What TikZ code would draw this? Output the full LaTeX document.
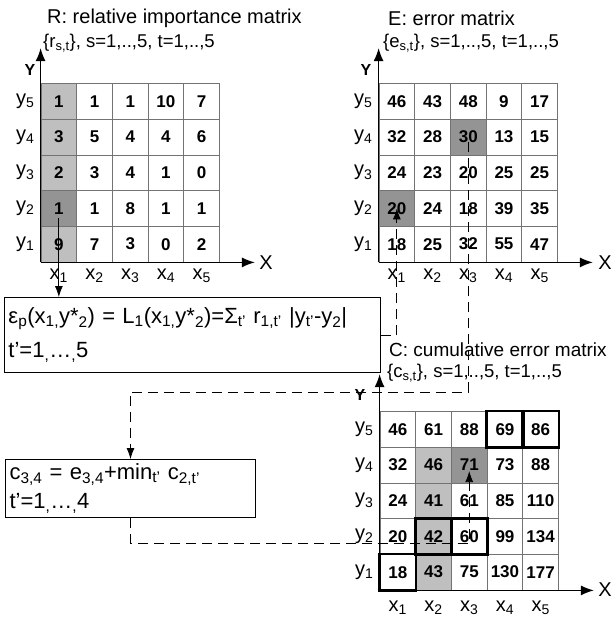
\documentclass[tikz,border=0pt]{standalone}
\usepackage{fontspec}
\setmainfont{Liberation Sans}
\usetikzlibrary{arrows.meta,positioning,calc,backgrounds}

\newcommand{\ix}[1]{\textsubscript{#1}}

\begin{document}
\begin{tikzpicture}[
    x=1pt, y=-1pt,
    cell/.style={draw=black!55, line width=0.8pt, minimum size=35.7pt, inner sep=0pt, font=\fontsize{17}{17}\selectfont\bfseries},
    lite/.style={fill=black!25},
    dark/.style={fill=black!42},
    best/.style={draw, line width=2.6pt},
    axis/.style={-{Latex[length=13pt,width=10pt]}, line width=1.3pt},
    lbl/.style={inner sep=0pt, font=\fontsize{20}{20}\selectfont},
    ylbl/.style={inner sep=0pt, font=\fontsize{16}{16}\selectfont\bfseries},
    title/.style={anchor=west, inner sep=0pt, font=\fontsize{20}{20}\selectfont},
    subtitle/.style={anchor=west, inner sep=0pt, font=\fontsize{18.5}{18.5}\selectfont},
    formula/.style={draw, line width=1pt, anchor=north west, align=left, inner xsep=4pt},
    pointer/.style={line width=0.8pt, -{Latex[length=11pt,width=8pt]}},
    link/.style={pointer, dash pattern=on 10pt off 6pt}
  ]
  \useasboundingbox (0,0) rectangle (614,618);

  % R: relative importance matrix
  \node[title] (rtitle) at (47,18) {R: relative importance matrix};
  \node[subtitle] (rsub) at (43,43) {\{r\ix{s,t}\}, s=1,..,5, t=1,..,5};
  \foreach \vals [count=\j] in {{9,7,3,0,2},{1,1,8,1,1},{2,3,4,1,0},{3,5,4,4,6},{1,1,1,10,7}}
    \foreach \v [count=\i] in \vals
      \node[cell] (r\i\j) at ({41+35.7*(\i-0.5)},{262-35.7*(\j-0.5)}) {\v};
  \foreach \j in {1,...,5}
    \node[lbl, left=6pt of r1\j] (ry\j) {y\ix{\j}};
  \foreach \i in {1,...,5}
    \node[lbl] (rx\i) at ($(r\i1.south)+(0,13)$) {x\ix{\i}};
  \draw[axis] (r11.south west) -- ([yshift=35pt]r15.north west);
  \draw[axis] (r11.south west) -- ([xshift=35pt]r51.south east);
  \node[ylbl] (rY) at (30,70) {Y};
  \node[lbl] (rX) at (266,263) {X};

  % E: error matrix
  \node[title] (etitle) at (388,18) {E: error matrix};
  \node[subtitle] (esub) at (383,43) {\{e\ix{s,t}\}, s=1,..,5, t=1,..,5};
  \foreach \vals [count=\j] in {{18,25,32,55,47},{20,24,18,39,35},{24,23,20,25,25},{32,28,30,13,15},{46,43,48,9,17}}
    \foreach \v [count=\i] in \vals
      \node[cell] (e\i\j) at ({379+35.7*(\i-0.5)},{262-35.7*(\j-0.5)}) {\v};
  \foreach \j in {1,...,5}
    \node[lbl, left=6pt of e1\j] (ey\j) {y\ix{\j}};
  \foreach \i in {1,...,5}
    \node[lbl] (ex\i) at ($(e\i1.south)+(0,13)$) {x\ix{\i}};
  \draw[axis] (e11.south west) -- ([yshift=35pt]e15.north west);
  \draw[axis] (e11.south west) -- ([xshift=35pt]e51.south east);
  \node[ylbl] (eY) at (366,70) {Y};
  \node[lbl] (eX) at (605,263) {X};

  % C: cumulative error matrix
  \node[title, font=\fontsize{19}{19}\selectfont] (ctitle) at (389,350) {C: cumulative error matrix};
  \node[subtitle] (csub) at (387,373) {\{c\ix{s,t}\}, s=1,..,5, t=1,..,5};
  \foreach \vals [count=\j] in {{18,43,75,130,177},{20,42,60,99,134},{24,41,61,85,110},{32,46,71,73,88},{46,61,88,69,86}}
    \foreach \v [count=\i] in \vals
      \node[cell] (c\i\j) at ({380+35.7*(\i-0.5)},{590-35.7*(\j-0.5)}) {\v};
  \foreach \j in {1,...,5}
    \node[lbl, left=6pt of c1\j] (cy\j) {y\ix{\j}};
  \foreach \i in {1,...,5}
    \node[lbl] (cx\i) at ($(c\i1.south)+(0,17)$) {x\ix{\i}};
  \draw[axis] (c11.south west) -- ([yshift=37pt]c15.north west);
  \draw[axis] (c11.south west) -- ([xshift=35pt]c51.south east);
  \node[ylbl] (cY) at (360,395) {Y};
  \node[lbl] (cX) at (605,590) {X};
  \foreach \n in {c11,c22,c32,c45,c55}
    \draw[best] (\n.south west) rectangle (\n.north east);

  % shading
  \begin{pgfonlayer}{background}
    \fill[lite] (r11.south west) rectangle (r15.north east);
    \fill[dark] (r12.south west) rectangle (r12.north east);
    \fill[dark] (e12.south west) rectangle (e12.north east);
    \fill[dark] (e34.south west) rectangle (e34.north east);
    \fill[lite] (c21.south west) rectangle (c24.north east);
    \fill[dark] (c34.south west) rectangle (c34.north east);
  \end{pgfonlayer}

  % formulas
  \node[formula, minimum width=376pt, minimum height=75pt, text width=368pt, font=\fontsize{22}{34}\selectfont] (box1) at (4,297)
    {ε\ix{p}(x\ix{1,}y*\ix{2}) = L\ix{1}(x\ix{1,}y*\ix{2})=Σ\ix{t’} r\ix{1,t’} |y\ix{t’}-y\ix{2}|\\t’=1\ix{,}…\ix{,}5};
  \node[formula, minimum width=250pt, minimum height=58pt, text width=242pt, font=\fontsize{22}{29}\selectfont] (box2) at (5,459)
    {c\ix{3,4} = e\ix{3,4}+min\ix{t’} c\ix{2,t’}\\t’=1\ix{,}…\ix{,}4};

  % links
  \coordinate (bend1) at (0,392);
  \coordinate (bend2) at (0,543);
  \draw[pointer, shorten <=10pt] (r12.center) -- (r12 |- box1.north);
  \draw[link] (box1.east) -- (e12 |- box1.east) -- (e12.center);
  \draw[link, shorten <=5pt] (e34.center) -- (e34 |- bend1) -- (box2 |- bend1) -- (box2.north);
  \draw[link, shorten >=6pt] (box2.south) -- (box2 |- bend2) -- (c34 |- bend2) -- (c34.center);
\end{tikzpicture}
\end{document}
